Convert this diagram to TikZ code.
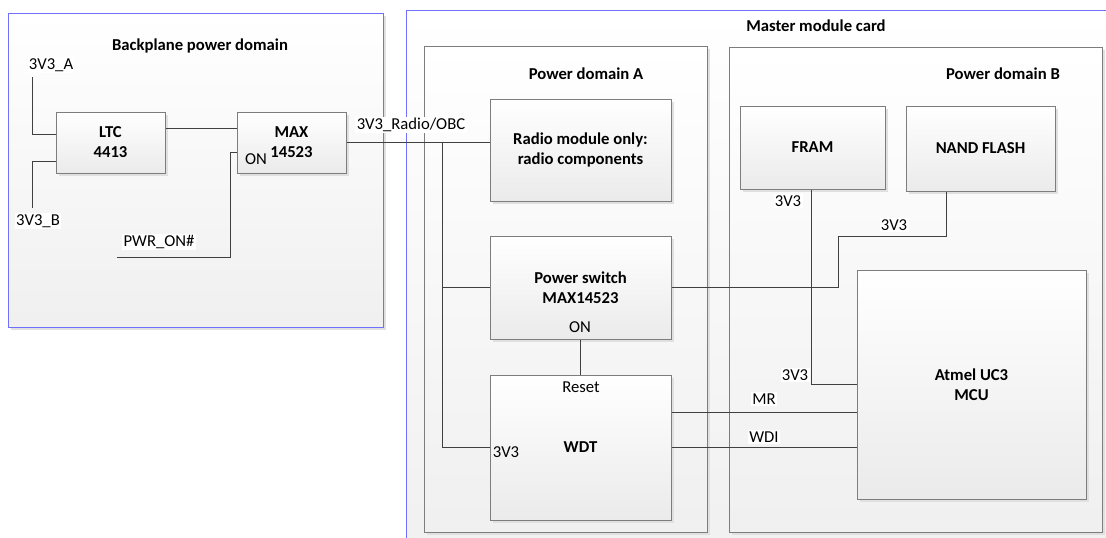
\documentclass[tikz,border=0pt]{standalone}
\usepackage{fontspec}
\setmainfont{Carlito}
\usetikzlibrary{fit,shadows}
\definecolor{frameblue}{RGB}{112,112,255}
\definecolor{wirecol}{RGB}{64,64,64}
\definecolor{edgecol}{RGB}{125,125,125}

\begin{document}
\begin{tikzpicture}[x=0.75pt,y=-0.75pt,
  font=\fontsize{12.5}{15}\selectfont,
  shadowed/.style={drop shadow={shadow xshift=2pt,shadow yshift=-2pt,fill=black!12,opacity=1}},
  part/.style={draw=edgecol, line width=0.75pt, top color=white, bottom color=black!8,
    shadowed, inner sep=0pt, align=center, font=\fontsize{12.5}{15}\selectfont\bfseries},
  domainbox/.style={draw=edgecol, line width=0.75pt, top color=white, bottom color=black!6,
    shadowed, inner sep=0pt},
  board/.style={draw=frameblue, line width=0.75pt, top color=white, bottom color=black!6,
    shadowed, inner sep=0pt},
  title/.style={font=\fontsize{12.5}{15}\selectfont\bfseries},
  sig/.style={fill=white, inner sep=1pt},
  pin/.style={inner sep=1pt},
  wire/.style={draw=wirecol, line width=0.75pt}]

\useasboundingbox (0,0) rectangle (1106,537);
\clip (0,0) rectangle (1106,537);

% ---------- containers ----------
\node[board, fit={(8,13)(383,327)}] (backplane) {};
\node[title] (tback) at (200,46) {Backplane power domain};

\node[board, fit={(406,10)(1140,570)}] (card) {};
\node[title] (tcard) at (816,26) {Master module card};

\node[domainbox, fit={(424,46)(707,532)}] (doma) {};
\node[title] (tdoma) at (586,74) {Power domain A};

\node[domainbox, fit={(729,47)(1102,532)}] (domb) {};
\node[title] (tdomb) at (1003,74) {Power domain B};

% ---------- blocks (sizes in pt, 1 unit = 0.75pt) ----------
\node[part, minimum width=81.75pt, minimum height=45.75pt] (ltc) at (110.5,142.5) {LTC\\4413};
\node[part, minimum width=81.75pt, minimum height=45.75pt] (max) at (291.5,142.5) {MAX\\14523};
\node[part, minimum width=135.75pt, minimum height=76.5pt] (radio) at (580.5,150) {Radio module only:\\radio components};
\node[part, minimum width=135.75pt, minimum height=77.25pt] (psw) at (580.5,287.5) {Power switch\\MAX14523};
\node[part, minimum width=135.75pt, minimum height=108.75pt] (wdt) at (580.5,447.5) {WDT};
\node[part, minimum width=108.75pt, minimum height=62.25pt] (fram) at (812.5,147.5) {FRAM};
\node[part, minimum width=111.75pt, minimum height=63.75pt] (nand) at (980.5,148.5) {NAND FLASH};
\node[part, minimum width=171.75pt, minimum height=171.75pt] (mcu) at (971.5,384.5) {Atmel UC3\\MCU};

% ---------- free wire ends and bends ----------
\coordinate (ina) at (32,77);
\coordinate (inb) at (32,208);
\coordinate (pwr) at (117,257);
\coordinate (tap) at (442,142);
\coordinate (jog) at (838,236);

% ---------- wires ----------
\draw[wire] (ina) |- (ltc.west |- 0,134);
\draw[wire] (ltc.west |- 0,161) -| (inb);
\draw[wire] (ltc.east |- 0,128) -- (max.west |- 0,128);
\draw[wire] (max.west |- 0,152) -- ++(-6,0) |- (pwr);
\draw[wire] (max.east |- 0,142) -- (radio.west |- 0,142);
\draw[wire] (tap) |- (wdt.west |- 0,447);
\draw[wire] (tap |- psw.west) -- (psw.west);
\draw[wire] (psw.east) -| (jog) -| (nand.south -| 946,0);
\draw[wire] (psw.south) -- (wdt.north);
\draw[wire] (fram.south -| 811,0) |- (mcu.west |- 0,384);
\draw[wire] (wdt.east |- 0,412) -- (mcu.west |- 0,412);
\draw[wire] (wdt.east |- 0,447) -- (mcu.west |- 0,447);

% ---------- pin names inside blocks ----------
\node[pin] (maxon) at (256,159) {ON};
\node[pin] (pswon) at (580,327) {ON};
\node[pin] (wdtrst) at (581,387) {Reset};
\node[pin] (wdtvcc) at (506,452) {3V3};

% ---------- signal names ----------
\node[sig] (la) at (51,65) {3V3\_A};
\node[sig] (lb) at (38,221) {3V3\_B};
\node[sig] (lpwr) at (159,242) {PWR\_ON\#};
\node[sig] (lradio) at (411,125) {3V3\_Radio/OBC};
\node[sig] (lfram) at (788,201) {3V3};
\node[sig] (lnand) at (894,225) {3V3};
\node[sig] (lmcu) at (795,375) {3V3};
\node[sig] (lmr) at (764,399) {MR};
\node[sig] (lwdi) at (764,437) {WDI};
\end{tikzpicture}
\end{document}
